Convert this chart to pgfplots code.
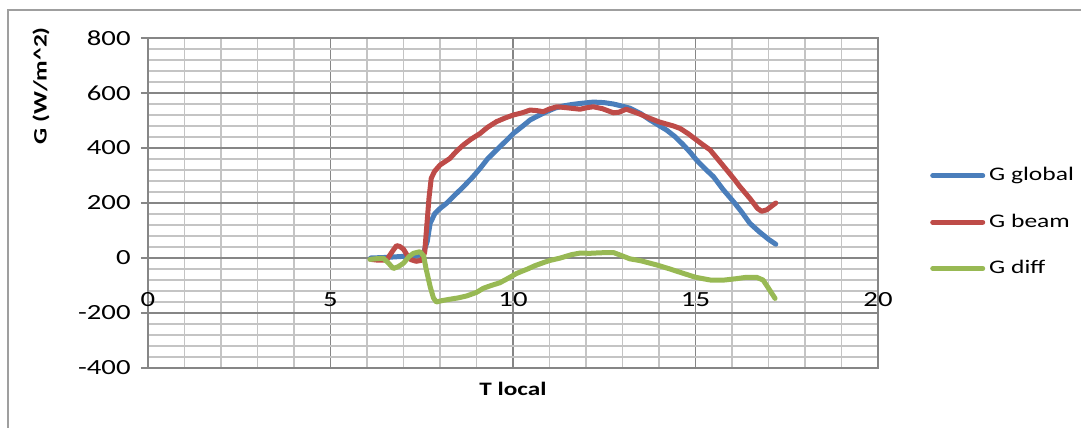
\documentclass[border=0pt]{standalone}
\usepackage{fontspec}
\setmainfont{Carlito}[FakeStretch=1.33]
\usepackage{pgfplots}
\pgfplotsset{compat=1.18}
\definecolor{cblue}{HTML}{4A7EBB}
\definecolor{cred}{HTML}{BE4B48}
\definecolor{cgreen}{HTML}{98B954}
\definecolor{gmajor}{HTML}{868686}
\definecolor{gminor}{HTML}{C4C4C4}
\begin{document}
\begin{tikzpicture}
\useasboundingbox (-74pt,-30pt) rectangle (466.5pt,184pt);
\draw[gray!75, line width=0.8pt] (-70pt,-40pt) -- (-70pt,179pt) -- (480pt,179pt);
\begin{axis}[
  at={(0,0)}, anchor=south west,
  scale only axis, width=365pt, height=165pt,
  xmin=0, xmax=20, ymin=-400, ymax=800,
  xtick={0,5,10,15,20}, ytick={-400,-200,0,200,400,600,800},
  minor x tick num=4, minor y tick num=4,
  grid=both,
  major grid style={gmajor, line width=0.6pt},
  minor grid style={gminor, line width=0.7pt},
  axis line style={gmajor, line width=0.6pt},
  tick align=outside, ytick pos=left, xtick pos=bottom,
  major tick length=3.5pt, minor tick length=0pt,
  xtick style={draw=none}, ytick style={gmajor, line width=0.6pt},
  /pgf/number format/assume math mode=true,
  tick label style={font=\fontsize{10.8pt}{12pt}\selectfont},
  yticklabel style={anchor=east, inner sep=0pt, xshift=-5pt},
  xticklabel style={anchor=center, inner sep=0pt, yshift=37.5pt},
  xlabel={T local},
  ylabel={G (W/m\^{}2)},
  xlabel style={at={(axis description cs:0.5,0)}, anchor=center, yshift=-10.5pt, font=\fontsize{9.5pt}{11pt}\selectfont\bfseries},
  ylabel style={at={(axis description cs:-0.1466,0.855)}, anchor=center, font=\fontsize{9.5pt}{11pt}\selectfont\bfseries},
  legend style={draw=none, fill=none, at={(1.071,0.442)}, anchor=west, inner sep=0pt,
    font=\fontsize{9.6pt}{11pt}\selectfont, row sep=11pt},
  legend cell align=left,
  legend image code/.code={\draw[#1, line width=2.5pt] (0pt,0pt) -- (25pt,0pt);},
  every axis plot/.append style={line width=2.5pt, line join=round, line cap=round},
]
\addplot[cblue] coordinates {
(6.1,0) (6.5,2) (7.0,6) (7.3,8) (7.54,15) (7.65,60) (7.73,126) (7.86,162) (8.0,180) (8.18,199) (8.4,228) (8.64,259) (8.9,295) (9.1,326) (9.3,360) (9.55,393) (9.8,425) (10.01,453) (10.25,478) (10.47,502) (10.7,518) (10.92,532) (11.15,545) (11.38,553) (11.6,558) (11.84,562) (12.2,567) (12.5,565) (12.75,560) (13.0,552) (13.2,545) (13.5,525) (13.75,502) (14.0,482) (14.21,465) (14.45,440) (14.67,411) (14.85,385) (15.03,356) (15.25,326) (15.49,296) (15.75,250) (16.04,205) (16.25,170) (16.49,126) (16.75,95) (17.0,68) (17.2,50)
};
\addlegendentry{G global}
\addplot[cred] coordinates {
(6.1,-5) (6.3,-8) (6.54,-7) (6.7,25) (6.81,45) (6.9,42) (7.0,32) (7.1,10) (7.2,-6) (7.35,-12) (7.5,-8) (7.58,20) (7.64,120) (7.7,220) (7.76,290) (7.85,315) (8.0,338) (8.27,362) (8.45,388) (8.64,411) (8.85,432) (9.1,453) (9.3,475) (9.55,496) (9.8,510) (10.01,520) (10.25,528) (10.47,538) (10.65,536) (10.83,532) (11.0,542) (11.2,550) (11.5,546) (11.84,541) (12.0,546) (12.2,550) (12.45,543) (12.75,528) (12.9,530) (13.1,541) (13.3,532) (13.5,522) (13.75,508) (14.0,495) (14.21,487) (14.4,480) (14.58,471) (14.8,452) (15.03,429) (15.2,412) (15.4,393) (15.7,345) (16.04,290) (16.22,259) (16.5,215) (16.7,180) (16.81,170) (16.95,175) (17.1,190) (17.2,200)
};
\addlegendentry{G beam}
\addplot[cgreen] coordinates {
(6.08,-5) (6.3,-2) (6.45,-1) (6.6,-20) (6.72,-38) (6.85,-32) (7.0,-19) (7.15,5) (7.27,17) (7.45,23) (7.55,8) (7.62,-40) (7.73,-104) (7.82,-145) (7.9,-160) (8.05,-155) (8.27,-150) (8.5,-145) (8.73,-138) (9.0,-125) (9.19,-110) (9.4,-100) (9.64,-90) (9.85,-75) (10.1,-56) (10.4,-40) (10.6,-28) (10.83,-17) (11.01,-9) (11.3,0) (11.6,12) (11.84,18) (12.1,17) (12.4,19) (12.75,20) (12.95,10) (13.2,-3) (13.5,-10) (13.93,-25) (14.3,-40) (14.67,-56) (15.0,-70) (15.4,-80) (15.8,-80) (16.13,-75) (16.4,-70) (16.67,-70) (16.85,-80) (17.0,-110) (17.18,-147)
};
\addlegendentry{G diff}
\end{axis}
\end{tikzpicture}
\end{document}
